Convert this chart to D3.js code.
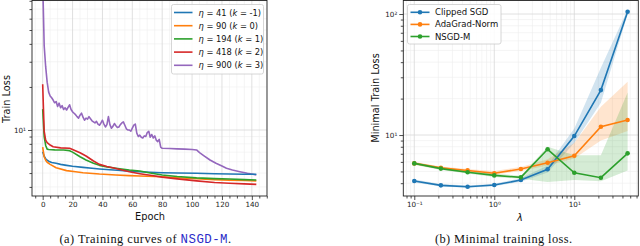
<!DOCTYPE html>
<html><head><meta charset="utf-8">
<script src="https://cdn.jsdelivr.net/npm/d3@7"></script>
<style>body{margin:0;background:#fff}svg{display:block;font-family:"DejaVu Sans",sans-serif}</style>
</head><body><svg id="c" width="640" height="246"></svg>
<script>
// ---------------- DATA: panel (a) ----------------
const seriesA = ["η = 41 (k = -1)","η = 90 (k = 0)","η = 194 (k = 1)","η = 418 (k = 2)","η = 900 (k = 3)"];
const etaNums = ["41","90","194","418","900"];
const kNums = ["-1","0","1","2","3"];
const eta41Epochs = [0,1,2,3,4,6,9,12,16,20,27,33,38,45,50,58,65,72,80,90,103,115,125,135,143];
const eta41Loss   = [7.05,6.55,6.3,6.15,6.05,5.93,5.85,5.75,5.66,5.58,5.48,5.4,5.34,5.27,5.23,5.16,5.11,5.07,5.03,5.0,4.98,4.95,4.92,4.91,4.90];
const eta90Epochs = [0,1,2,3,5,9,16,22,27,38,49,58,65,80,90,103,115,125,135,143];
const eta90Loss   = [7.6,6.5,6.15,5.95,5.75,5.45,5.2,5.1,5.03,4.92,4.85,4.8,4.77,4.71,4.64,4.56,4.5,4.46,4.43,4.41];
const eta194Epochs = [0,1,2,3,4,8,14,18,20,25,29,34,38,43,49,58,65,72,80,90,103,115,125,135,143];
const eta194Loss   = [14,9.0,7.8,7.35,7.3,7.26,7.25,7.17,7.0,6.5,6.17,5.85,5.66,5.52,5.40,5.25,5.17,5.0,4.85,4.73,4.63,4.57,4.54,4.5,4.47];
const eta418Epochs = [0,1,2,3,5,7,12,18,20,25,29,34,38,43,49,58,65,72,80,90,103,115,125,135,143];
const eta418Loss   = [20.9,9.8,8.5,8.15,7.85,7.64,7.5,7.45,7.3,6.94,6.58,6.07,5.75,5.55,5.38,5.1,4.95,4.82,4.68,4.55,4.41,4.3,4.24,4.2,4.17];
const eta900Epochs = [0,1,2,3,4,5,6,7,8,9,10,11,12,13,14,15,16,17,18,19,20,21,22,23,24,25,26,27,28,29,30,31,32,33,34,35,36,37,38,39,40,41,42,43,44,45,46,47,48,49,50,51,52,53,54,55,56,57,58,59,60,61,62,63,64,65,66,67,68,69,70,71,72,73,74,75,76,77,78,79,80,85,90,95,100,103,105,108,112,116,120,123,127,132,137,140,143];
const eta900Loss   = [110,39,27.7,21.6,18.4,17.3,16.8,16.2,15.5,15.8,14.6,15.4,14.3,14.8,13.9,14.3,13.8,14.4,15.0,13.9,13.4,13.1,12.8,12.4,12.1,12.7,13.1,12.3,11.7,12.1,11.9,12.4,12.0,11.6,11.4,11.2,11.5,11.0,10.8,11.2,11.7,11.0,10.5,10.9,12.4,10.9,10.3,10.6,11.1,10.7,10.4,10.5,10.9,11.2,11.4,10.8,10.2,10.0,10.0,9.8,10.3,10.8,11.0,9.5,9.0,9.2,8.9,8.8,9.1,9.0,9.6,9.8,8.9,9.3,8.8,9.1,8.5,8.3,8.6,7.6,7.45,7.42,7.38,7.35,7.3,7.25,6.95,6.6,6.17,5.85,5.6,5.4,5.25,5.11,4.98,4.92,4.85];
const epochTicks = [0,20,40,60,80,100,120,140];
const epochMinorTicks = [-5,5,10,15,25,30,35,45,50,55,65,70,75,85,90,95,105,110,115,125,130,135,145,150];
const lossTicksA = [10];
const lossMinorA = [4,5,6,7,8,9,20,30,40,50,60,70,80];

// ---------------- DATA: panel (b) ----------------
const methods = ["Clipped SGD","AdaGrad-Norm","NSGD-M"];
const lambdas = [0.1,0.215,0.464,1,2.15,4.64,10,21.5,46.4];
const clippedLoss = [4.17,3.84,3.74,3.86,4.25,5.21,9.81,23.5,104.5];
const clippedLo   = [4.05,3.76,3.66,3.78,4.12,4.9,8.6,18.5,100];
const clippedHi   = [4.3,3.93,3.83,3.95,4.4,5.6,11.3,36,109];
const adagradLoss = [5.83,5.35,5.1,4.83,5.24,5.90,6.74,11.7,13.3];
const adagradLo   = [5.68,5.2,4.92,4.7,5.05,5.6,6.4,9.0,10.8];
const adagradHi   = [6.0,5.5,5.25,5.05,5.45,6.3,8.6,17.1,27.6];
const nsgdmLoss   = [5.83,5.28,4.92,4.64,4.47,7.62,4.88,4.44,7.06];
const nsgdmLo     = [5.68,5.15,4.8,4.5,4.35,4.1,4.25,4.15,5.1];
const nsgdmHi     = [6.0,5.45,5.1,4.8,4.6,8.0,6.8,6.8,22.5];
const lambdaTicks = [0.1,1,10];
const lambdaTickLabels = ["10⁻¹","10⁰","10¹"];
const lambdaMinor = [0.08,0.09,0.2,0.3,0.4,0.5,0.6,0.7,0.8,0.9,2,3,4,5,6,7,8,9,20,30,40,50,60];
const lossTicksB = [10,100];
const lossTickLabelsB = ["10¹","10²"];
const lossMinorB = [4,5,6,7,8,9,20,30,40,50,60,70,80,90];

const colors = ["#1f77b4","#ff7f0e","#2ca02c","#d62728","#9467bd"];

// ---------------- DRAW ----------------
const svg = d3.select("#c");
svg.append("rect").attr("width",640).attr("height",246).attr("fill","#fff");

function panel(g, x, y, xMaj, xMin, yMaj, yMin, id) {
  const [x0,x1] = x.range(), [y0,y1] = y.range();
  g.append("g").selectAll("line").data(xMin.filter(v=>x(v)>=x0&&x(v)<=x1)).join("line")
    .attr("x1",d=>x(d)).attr("x2",d=>x(d)).attr("y1",y0).attr("y2",y1)
    .attr("stroke","#eeeeee").attr("stroke-width",0.6);
  g.append("g").selectAll("line").data(yMin).join("line")
    .attr("y1",d=>y(d)).attr("y2",d=>y(d)).attr("x1",x0).attr("x2",x1)
    .attr("stroke","#eeeeee").attr("stroke-width",0.6);
  g.append("g").selectAll("line").data(xMaj).join("line")
    .attr("x1",d=>x(d)).attr("x2",d=>x(d)).attr("y1",y0).attr("y2",y1)
    .attr("stroke","#d8d8d8").attr("stroke-width",0.8);
  g.append("g").selectAll("line").data(yMaj).join("line")
    .attr("y1",d=>y(d)).attr("y2",d=>y(d)).attr("x1",x0).attr("x2",x1)
    .attr("stroke","#d8d8d8").attr("stroke-width",0.8);
  svg.append("clipPath").attr("id",id).append("rect")
    .attr("x",x0).attr("y",y1).attr("width",x1-x0).attr("height",y0-y1);
}

function axes(g, x, y, xMaj, xMin, xFmt, yMaj, yMin, yFmt) {
  const [x0,x1] = x.range(), [y0,y1] = y.range();
  const ax = g.append("g").attr("transform",`translate(0,${y0})`)
    .call(d3.axisBottom(x).tickValues(xMaj).tickSize(4).tickPadding(2).tickFormat(xFmt));
  const axm = g.append("g").attr("transform",`translate(0,${y0})`)
    .call(d3.axisBottom(x).tickValues(xMin.filter(v=>x(v)>=x0-0.1&&x(v)<=x1+0.1)).tickSize(2.5).tickFormat(""));
  const ay = g.append("g").attr("transform",`translate(${x0},0)`)
    .call(d3.axisLeft(y).tickValues(yMaj).tickSize(4).tickPadding(2).tickFormat(yFmt));
  const aym = g.append("g").attr("transform",`translate(${x0},0)`)
    .call(d3.axisLeft(y).tickValues(yMin).tickSize(2.5).tickFormat(""));
  [ax,axm,ay,aym].forEach(a=>{
    a.select(".domain").remove();
    a.selectAll("line").attr("stroke","#222").attr("stroke-width",0.8);
    a.selectAll("text").attr("font-size",7.2).attr("fill","#222").style("font-family","DejaVu Sans");
  });
  g.append("rect").attr("x",x0).attr("y",y1).attr("width",x1-x0).attr("height",y0-y1)
    .attr("fill","none").attr("stroke","#222").attr("stroke-width",0.9);
}

// ---- panel (a)
const xA = d3.scaleLinear().domain([-7.15,150.15]).range([32,267]);
const yA = d3.scaleLog().domain([3.456,80.4]).range([196,0.5]);
const gA = svg.append("g");
panel(gA,xA,yA,epochTicks,epochMinorTicks,lossTicksA,lossMinorA,"clipA");
const lineA = d3.line().x(d=>xA(d[0])).y(d=>yA(d[1]));
const seriesDataA = [
  d3.zip(eta41Epochs,eta41Loss), d3.zip(eta90Epochs,eta90Loss), d3.zip(eta194Epochs,eta194Loss),
  d3.zip(eta418Epochs,eta418Loss), d3.zip(eta900Epochs,eta900Loss)];
const lg = gA.append("g").attr("clip-path","url(#clipA)");
[4,0,1,2,3].forEach(i=>{
  lg.append("path").attr("d",lineA(seriesDataA[i])).attr("fill","none")
    .attr("stroke",colors[i]).attr("stroke-width",1.6).attr("stroke-linejoin","round");
});
axes(gA,xA,yA,epochTicks,epochMinorTicks,d3.format("d"),lossTicksA,lossMinorA,()=>"10¹");
gA.append("text").attr("x",150).attr("y",220).attr("text-anchor","middle").attr("font-size",9.8).attr("fill","#111").text("Epoch");
gA.append("text").attr("transform","translate(9.5,99) rotate(-90)").attr("text-anchor","middle").attr("font-size",9.8).attr("fill","#111").text("Train Loss");
// legend a
const legA = gA.append("g");
legA.append("rect").attr("x",171.5).attr("y",4.5).attr("width",92).attr("height",69.5).attr("rx",2)
  .attr("fill","#fff").attr("fill-opacity",0.85).attr("stroke","#ccc").attr("stroke-width",0.8);
seriesA.forEach((s,i)=>{
  const yy = 12.5 + i*13.2;
  legA.append("line").attr("x1",174).attr("x2",192.5).attr("y1",yy).attr("y2",yy).attr("stroke",colors[i]).attr("stroke-width",1.6);
  const t = legA.append("text").attr("x",198.5).attr("y",yy+3).attr("font-size",8.3).attr("fill","#111");
  t.append("tspan").attr("font-style","italic").text("η");
  t.append("tspan").text(" = "+etaNums[i]+" (");
  t.append("tspan").attr("font-style","italic").text("k");
  t.append("tspan").text(" = "+kNums[i]+")");
});
const capA = svg.append("text").attr("x",59.5).attr("y",243)
  .attr("textLength",171.5).attr("lengthAdjust","spacing")
  .style("font-family","'Liberation Serif', serif").attr("font-size",12.4).attr("fill","#111");
capA.append("tspan").text("(a) Training curves of ");
capA.append("tspan").style("font-family","'Liberation Mono', monospace").attr("fill","#2b2bc8").text("NSGD-M");
capA.append("tspan").text(".");

// ---- panel (b)
const xB = d3.scaleLog().domain([0.0729,63.1]).range([403.3,638.3]);
const yB = d3.scaleLog().domain([3.135,129.3]).range([196,0.5]);
const gB = svg.append("g");
panel(gB,xB,yB,lambdaTicks,lambdaMinor,lossTicksB,lossMinorB,"clipB");
const cb = gB.append("g").attr("clip-path","url(#clipB)");
const mLines = [clippedLoss,adagradLoss,nsgdmLoss];
const mLo = [clippedLo,adagradLo,nsgdmLo];
const mHi = [clippedHi,adagradHi,nsgdmHi];
const area = d3.area().x(d=>xB(d[0])).y0(d=>yB(d[1])).y1(d=>yB(d[2]));
const lineB = d3.line().x(d=>xB(d[0])).y(d=>yB(d[1]));
[0,1,2].forEach(i=>{
  cb.append("path").attr("d",area(d3.zip(lambdas,mLo[i],mHi[i]))).attr("fill",colors[i]).attr("fill-opacity",0.2);
});
[0,1,2].forEach(i=>{
  const pts = d3.zip(lambdas,mLines[i]);
  cb.append("path").attr("d",lineB(pts)).attr("fill","none").attr("stroke",colors[i]).attr("stroke-width",1.6);
  cb.append("g").selectAll("circle").data(pts).join("circle")
    .attr("cx",d=>xB(d[0])).attr("cy",d=>yB(d[1])).attr("r",2.3).attr("fill",colors[i]);
});
axes(gB,xB,yB,lambdaTicks,lambdaMinor,(d,i)=>lambdaTickLabels[i],lossTicksB,lossMinorB,(d,i)=>lossTickLabelsB[i]);
gB.append("text").attr("x",520).attr("y",221).attr("text-anchor","middle").attr("font-size",9.8).attr("font-style","italic").attr("fill","#111").text("λ");
gB.append("text").attr("transform","translate(379,98) rotate(-90)").attr("text-anchor","middle").attr("font-size",9.8).attr("fill","#111").text("Minimal Train Loss");
const legB = gB.append("g");
legB.append("rect").attr("x",407.5).attr("y",4.5).attr("width",93.5).attr("height",39.5).attr("rx",2)
  .attr("fill","#fff").attr("fill-opacity",0.85).attr("stroke","#ccc").attr("stroke-width",0.8);
methods.forEach((m,i)=>{
  const yy = 12.3 + i*12.1;
  legB.append("line").attr("x1",410.5).attr("x2",429.5).attr("y1",yy).attr("y2",yy).attr("stroke",colors[i]).attr("stroke-width",1.6);
  legB.append("circle").attr("cx",420).attr("cy",yy).attr("r",2.3).attr("fill",colors[i]);
  legB.append("text").attr("x",435).attr("y",yy+3).attr("font-size",8.5).attr("fill","#111").text(m);
});
svg.append("text").attr("x",435).attr("y",243)
  .attr("textLength",137).attr("lengthAdjust","spacing")
  .style("font-family","'Liberation Serif', serif").attr("font-size",12.4).attr("fill","#111").text("(b) Minimal training loss.");
</script></body></html>
